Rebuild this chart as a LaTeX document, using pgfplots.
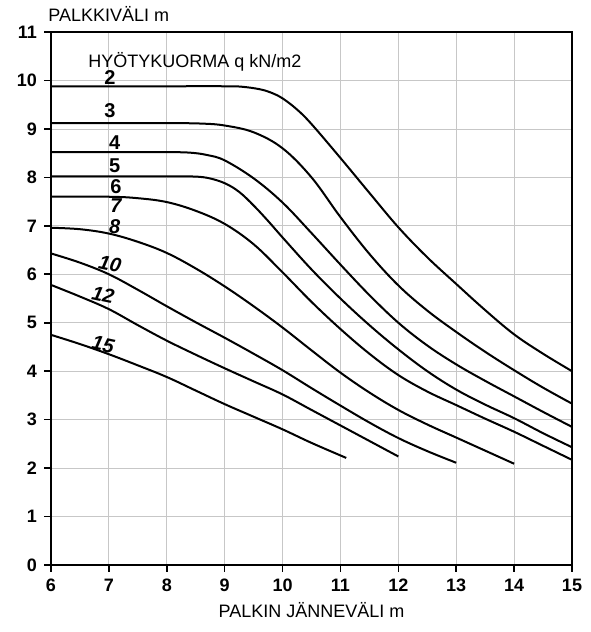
\documentclass[border=0pt]{standalone}
\usepackage{fontspec}
\setmainfont{Liberation Sans}
\usepackage{pgfplots}
\pgfplotsset{compat=1.18}
\usetikzlibrary{calc}

\begin{document}
\begin{tikzpicture}
\pgfplotsset{crv/.style={black, solid, line width=1pt, mark=none, smooth, tension=0.6}}
\begin{axis}[
  name=ax,
  scale only axis,
  width=260.5pt, height=266.5pt,
  xmin=6, xmax=15, ymin=0, ymax=11,
  xtick={6,...,15}, ytick={0,...,11},
  tick align=outside, major tick length=3.5pt,
  tick pos=left,
  grid=major,
  grid style={black!22, line width=0.4pt},
  axis line style={line width=0.9pt},
  ticklabel style={font=\fontsize{9}{10}\selectfont\bfseries},
  /pgf/number format/assume math mode=true,
  clip=false,
]
% q = 2
\addplot[crv] coordinates {(6,9.88)(7,9.88)(8,9.88)(9,9.88)(9.3,9.87)(9.6,9.82)(9.8,9.75)(10,9.63)(10.25,9.4)(10.5,9.1)(11,8.4)(11.5,7.68)(12,6.97)(12.5,6.35)(13,5.8)(13.5,5.26)(14,4.76)(14.5,4.36)(15,4.0)};
% q = 3
\addplot[crv] coordinates {(6,9.12)(7,9.12)(8,9.12)(8.6,9.11)(9,9.07)(9.5,8.93)(10,8.6)(10.5,8.0)(11,7.18)(11.5,6.42)(12,5.77)(12.5,5.25)(13,4.81)(13.5,4.4)(14,4.02)(14.5,3.66)(15,3.33)};
% q = 4
\addplot[crv] coordinates {(6,8.52)(7,8.52)(8,8.52)(8.4,8.51)(8.7,8.46)(9,8.35)(9.5,7.98)(10,7.48)(10.5,6.85)(11,6.2)(11.5,5.57)(12,5.0)(12.5,4.53)(13,4.14)(13.5,3.8)(14,3.48)(14.5,3.16)(15,2.85)};
% q = 5
\addplot[crv] coordinates {(6,8.02)(7,8.02)(8,8.02)(8.4,8.02)(8.7,7.99)(9,7.88)(9.25,7.7)(9.5,7.42)(9.75,7.1)(10,6.76)(10.5,6.1)(11,5.5)(11.5,4.95)(12,4.45)(12.5,4.0)(13,3.62)(13.5,3.31)(14,3.03)(14.5,2.72)(15,2.43)};
% q = 6/7
\addplot[crv] coordinates {(6,7.6)(7,7.6)(7.5,7.57)(8,7.49)(8.5,7.31)(9,7.04)(9.5,6.62)(10,6.04)(10.5,5.43)(11,4.87)(11.5,4.36)(12,3.92)(12.5,3.58)(13,3.3)(13.5,3.02)(14,2.75)(14.5,2.46)(15,2.17)};
% q = 8
\addplot[crv] coordinates {(6,6.96)(6.5,6.93)(7,6.84)(7.5,6.67)(8,6.44)(8.5,6.12)(9,5.75)(9.5,5.34)(10,4.9)(10.5,4.43)(11,3.97)(11.5,3.56)(12,3.2)(12.5,2.9)(13,2.63)(13.5,2.36)(14,2.09)};
% q = 10
\addplot[crv] coordinates {(6,6.43)(6.5,6.24)(7,6.0)(7.5,5.68)(8,5.34)(8.5,5.01)(9,4.69)(9.5,4.36)(10,4.02)(10.5,3.65)(11,3.29)(11.5,2.94)(12,2.62)(12.5,2.35)(13,2.11)};
% q = 12
\addplot[crv] coordinates {(6,5.78)(6.5,5.54)(7,5.28)(7.5,4.95)(8,4.63)(8.5,4.34)(9,4.06)(9.5,3.79)(10,3.52)(10.5,3.2)(11,2.88)(11.5,2.56)(12,2.24)};
% q = 15
\addplot[crv] coordinates {(6,4.75)(6.5,4.56)(7,4.35)(7.5,4.12)(8,3.88)(8.5,3.6)(9,3.32)(9.5,3.06)(10,2.8)(10.5,2.52)(11.1,2.21)};

% outward tick marks (absolute axis coordinates)
\pgfplotsinvokeforeach{6,...,15}{\draw[black, line width=0.8pt] (axis cs:#1,0) -- (axis cs:#1,-0.14);}
\pgfplotsinvokeforeach{0,...,11}{\draw[black, line width=0.8pt] (axis cs:6,#1) -- (axis cs:5.88,#1);}

% curve labels
\begin{scope}[every node/.style={font=\fontsize{10}{11}\selectfont\bfseries, inner sep=0pt}]
\node at (axis cs:7.02,10.06) {2};
\node at (axis cs:7.02,9.37) {3};
\node at (axis cs:7.1,8.72) {4};
\node at (axis cs:7.1,8.23) {5};
\node at (axis cs:7.12,7.8) {6};
\node[font=\fontsize{10}{11}\selectfont\bfseries\itshape] at (axis cs:7.12,7.42) {7};
\node[font=\fontsize{10}{11}\selectfont\bfseries\itshape] at (axis cs:7.1,6.98) {8};
\node[font=\fontsize{10}{11}\selectfont\bfseries\itshape, rotate=-12] at (axis cs:7.02,6.22) {10};
\node[font=\fontsize{10}{11}\selectfont\bfseries\itshape, rotate=-12] at (axis cs:6.9,5.58) {12};
\node[font=\fontsize{10}{11}\selectfont\bfseries\itshape, rotate=-12] at (axis cs:6.9,4.55) {15};
\end{scope}
\node[anchor=base west, inner sep=0pt, font=\fontsize{9}{10}\selectfont] at (axis cs:6.64,10.26) {HYÖTYKUORMA q kN/m2};
\end{axis}
\node[anchor=base west, inner sep=0pt, font=\fontsize{9}{10}\selectfont] at ($(ax.north west)+(-1.5pt,5pt)$) {PALKKIVÄLI m};
\node[anchor=base, inner sep=0pt, font=\fontsize{9}{10}\selectfont] at ($(ax.south)+(0,-26.5pt)$) {PALKIN JÄNNEVÄLI m};
\pgfresetboundingbox
\path[use as bounding box] ($(ax.south west)+(-25.5pt,-33.5pt)$) rectangle ($(ax.north east)+(9pt,16pt)$);
\end{tikzpicture}
\end{document}
